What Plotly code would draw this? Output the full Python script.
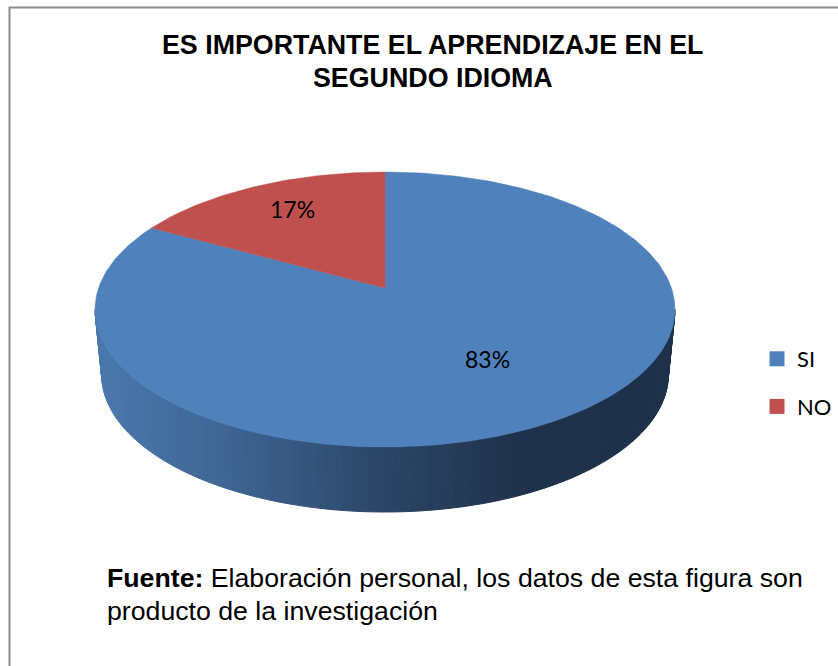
import math
import plotly.graph_objects as go

# ---- data ----
categories = ["SI", "NO"]
values = [83, 17]
colors = ["#4f81bd", "#c0504d"]
title_lines = ["ES IMPORTANTE EL APRENDIZAJE EN EL", "SEGUNDO IDIOMA"]
source_bold = "Fuente:"
source_lines = [" Elaboración personal, los datos de esta figura son",
                "producto de la investigación"]

# ---- 3D pie projection (page pixels) ----
CX, CY = 385.0, 288.0       # pie centre on the top face
TOP, BOTTOM = 172.0, 447.0  # rim extremes of the top face
HALF_W = 290.0
DEPTH = 65.0
LOWER_SCALE = 0.977
up, down = CY - TOP, BOTTOM - CY
K = (up - down) / (up + down)
B = down * (1 + K)
A = HALF_W * math.sqrt(1 - K * K)


def project(theta_deg, r=1.0):
    t = math.radians(theta_deg)
    u, v = r * math.sin(t), -r * math.cos(t)
    d = 1 + K * v
    return CX + A * u / d, CY + B * v / d


def lower(theta_deg):
    x, y = project(theta_deg)
    return CX + (x - CX) * LOWER_SCALE, y + DEPTH


def side_color(x):
    stops = [(95, (74, 120, 174)), (230, (62, 100, 146)), (380, (43, 70, 103)),
             (520, (31, 50, 76)), (680, (30, 49, 74))]
    for (x0, c0), (x1, c1) in zip(stops, stops[1:]):
        if x <= x1:
            f = max(0.0, (x - x0) / (x1 - x0))
            return "rgb(%d,%d,%d)" % tuple(round(a + (b - a) * f) for a, b in zip(c0, c1))
    return "rgb(30,49,74)"


fig = go.Figure()

# side wall: thin strips between upper and lower rim, front part of the rim only
n_strips = 110
t_right = math.degrees(math.acos(K))
t_left = 360 - t_right
for i in range(n_strips):
    a = t_right + (t_left - t_right) * i / n_strips
    b = t_right + (t_left - t_right) * (i + 1) / n_strips
    p1, p2 = project(a), project(b)
    q1, q2 = lower(a), lower(b)
    col = side_color((p1[0] + p2[0]) / 2)
    fig.add_trace(go.Scatter(
        x=[p1[0], p2[0], q2[0], q1[0], p1[0]],
        y=[p1[1], p2[1], q2[1], q1[1], p1[1]],
        mode="lines", fill="toself", fillcolor=col,
        line=dict(color=col, width=1), showlegend=False, hoverinfo="skip"))

# top face sectors, driven by values
total = sum(values)
start = 0.0
label_r = [0.62, 0.75]
label_shift = [(4, 7), (7, 0)]
annotations = []
for i, (name, val, col) in enumerate(zip(categories, values, colors)):
    sweep = 360.0 * val / total
    steps = max(4, int(sweep))
    pts = [project(start + sweep * j / steps) for j in range(steps + 1)]
    xs = [CX] + [p[0] for p in pts] + [CX]
    ys = [CY] + [p[1] for p in pts] + [CY]
    fig.add_trace(go.Scatter(x=xs, y=ys, mode="lines", fill="toself", fillcolor=col,
                             line=dict(color=col, width=0.5), showlegend=False,
                             hoverinfo="skip"))
    lx, ly = project(start + sweep / 2, label_r[i])
    annotations.append(dict(x=lx, y=ly, xref="x", yref="y", showarrow=False,
                            xshift=label_shift[i][0], yshift=label_shift[i][1],
                            text=f"{val}%",
                            font=dict(family="Lato", size=23, color="#000000")))
    start += sweep

# legend entries
for i, (name, col) in enumerate(zip(categories, colors)):
    fig.add_trace(go.Scatter(x=[None], y=[None], mode="markers", name=name,
                             legendgroup=name,
                             marker=dict(symbol="square", size=15, color=col)))

for line, ty in zip(title_lines, [45, 78]):
    annotations.append(dict(
        x=432.5, y=ty, xref="x", yref="y", showarrow=False, align="center",
        text=f"<b>{line}</b>",
        font=dict(family="Liberation Sans", size=26.8, color="#000000")))
for line, ty in zip([f"<b>{source_bold}</b>{source_lines[0]}", source_lines[1]], [578, 611]):
    annotations.append(dict(
        x=105, y=ty, xref="x", yref="y", showarrow=False, align="left", xanchor="left",
        text=line,
        font=dict(family="Liberation Sans", size=26.7, color="#000000")))

fig.update_layout(
    width=838, height=666, autosize=False,
    margin=dict(l=0, r=0, t=0, b=0),
    paper_bgcolor="#ffffff", plot_bgcolor="#ffffff",
    xaxis=dict(range=[0, 838], visible=False, fixedrange=True),
    yaxis=dict(range=[666, 0], visible=False, fixedrange=True),
    annotations=annotations,
    legend=dict(x=757 / 838, y=1 - 338 / 666, xanchor="left", yanchor="top",
                tracegroupgap=16, bgcolor="rgba(0,0,0,0)",
                font=dict(family="Lato", size=22, color="#000000")),
    shapes=[dict(type="rect", xref="x", yref="y", x0=9.5, y0=7.5, x1=900, y1=900,
                 line=dict(color="#8c8c8c", width=2), fillcolor="rgba(0,0,0,0)", layer="below")],
)
fig.write_html("out.html", config={"displayModeBar": False},
               post_script="document.body.style.margin='0';")
